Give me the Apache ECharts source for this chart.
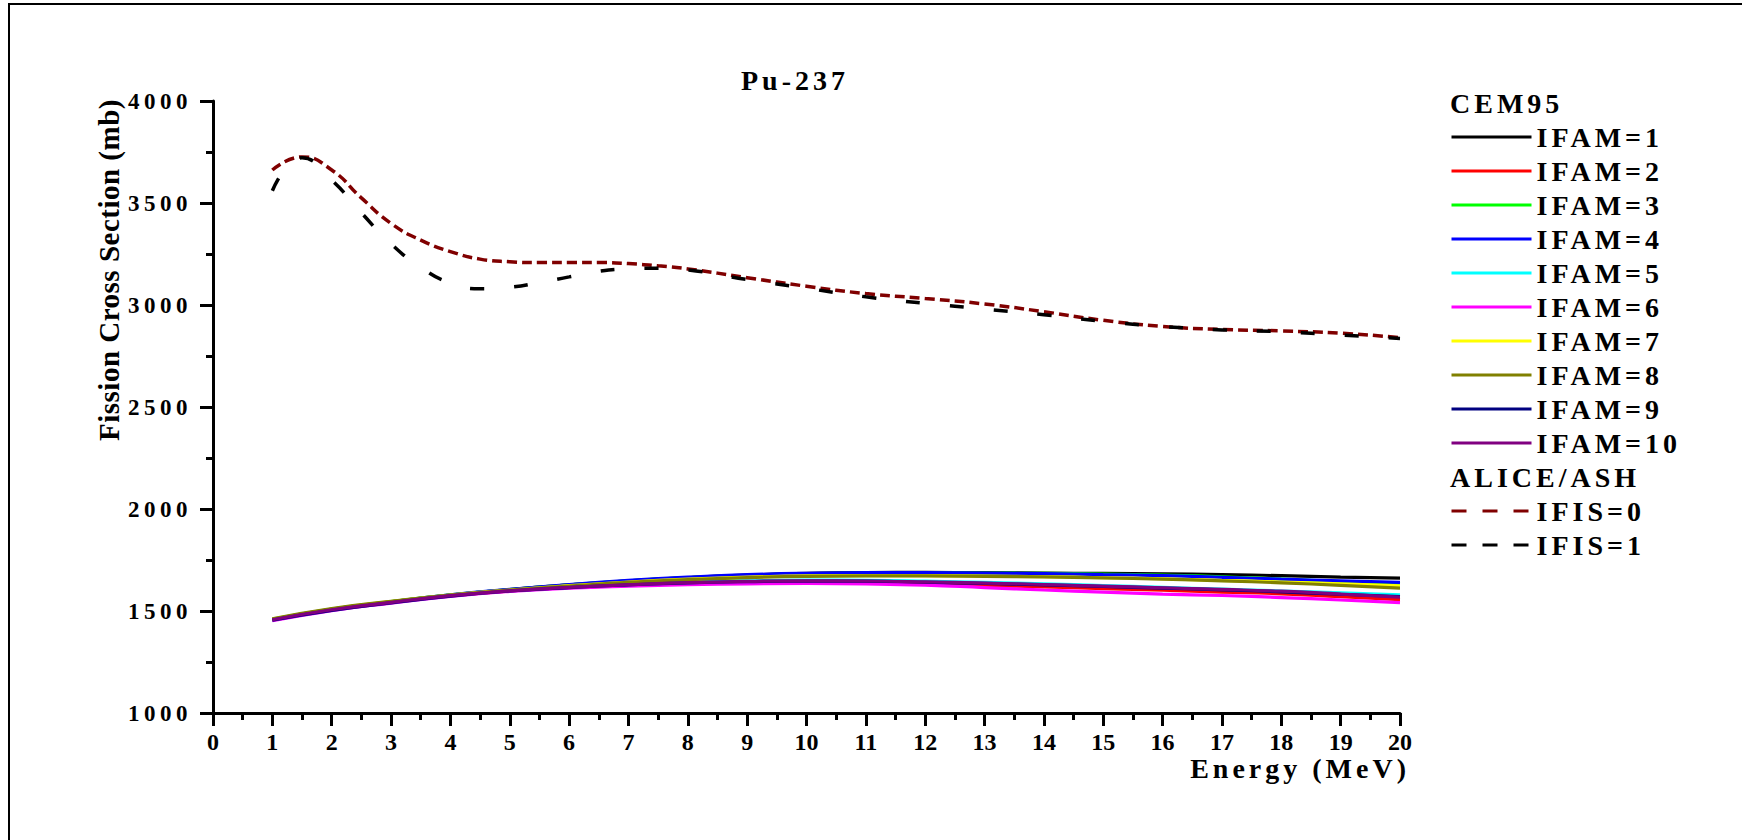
<!DOCTYPE html>
<html>
<head>
<meta charset="utf-8">
<script src="https://cdn.jsdelivr.net/npm/echarts@6/dist/echarts.min.js"></script>
<style>
html, body { margin: 0; padding: 0; background: #fff; }
#chart { width: 1742px; height: 840px; }
#chart text { letter-spacing: 0; }
#chart text[style*="28px"] { letter-spacing: 4px; }
#chart text[style*="23px"] { letter-spacing: 4.5px; }
#chart text[style*="29px"] { letter-spacing: 0.5px; }
</style>
</head>
<body>
<div id="chart"></div>
<script>
// ---- data ----
const chartTitle = 'Pu-237';
const xAxisTitle = 'Energy (MeV)';
const yAxisTitle = 'Fission Cross Section (mb)';
const groupCEM = 'CEM95';
const groupALICE = 'ALICE/ASH';

const energy = [1,2,3,4,5,6,7,8,9,10,11,12,13,14,15,16,17,18,19,20];
const ifamNames = ['IFAM=1','IFAM=2','IFAM=3','IFAM=4','IFAM=5','IFAM=6','IFAM=7','IFAM=8','IFAM=9','IFAM=10'];
const ifamColors = ['#000000','#ff0000','#00ff00','#0000ff','#00ffff','#ff00ff','#ffff00','#808000','#000080','#800080'];

const ifam1  = [1458,1508,1545,1578,1605,1628,1648,1664,1676,1684,1688,1689,1688,1686,1684,1682,1679,1673,1666,1661];
const ifam2  = [1456,1505,1541,1574,1598,1614,1626,1635,1640,1642,1640,1634,1626,1618,1610,1602,1593,1584,1570,1556];
const ifam3  = [1459,1509,1546,1579,1605,1628,1648,1663,1675,1682,1686,1687,1686,1684,1681,1676,1668,1656,1644,1633];
const ifam4  = [1458,1508,1545,1579,1606,1630,1650,1666,1678,1685,1688,1688,1686,1683,1678,1673,1665,1656,1648,1640];
const ifam5  = [1457,1507,1543,1576,1600,1618,1632,1642,1648,1651,1650,1646,1640,1633,1625,1616,1607,1598,1589,1579];
const ifam6  = [1452,1502,1539,1572,1596,1612,1622,1629,1633,1635,1633,1627,1615,1603,1593,1583,1576,1566,1554,1541];
const ifam7  = [1460,1510,1546,1578,1603,1624,1642,1656,1666,1672,1674,1673,1671,1668,1663,1658,1650,1642,1633,1623];
const ifam8  = [1462,1512,1547,1578,1602,1622,1640,1654,1664,1670,1672,1672,1670,1667,1662,1656,1648,1638,1626,1612];
const ifam9  = [1455,1503,1540,1573,1598,1615,1628,1638,1644,1647,1646,1641,1635,1628,1620,1612,1604,1594,1582,1571];
const ifam10 = [1457,1506,1542,1575,1599,1616,1629,1639,1645,1648,1647,1643,1637,1630,1622,1614,1606,1597,1583,1568];
const ifamValues = [ifam1, ifam2, ifam3, ifam4, ifam5, ifam6, ifam7, ifam8, ifam9, ifam10];

const ifisEnergy = [1,1.5,2,2.5,3,3.5,4,4.5,5,5.5,6,6.5,7,7.5,8,9,10,11,12,13,14,15,16,17,18,19,20];
const ifis0 = [3662,3726,3662,3525,3400,3318,3262,3225,3212,3208,3208,3208,3203,3192,3177,3134,3092,3056,3032,3005,2967,2925,2895,2880,2873,2862,2840];
const ifis1 = [3560,3722,3612,3452,3300,3185,3108,3080,3087,3110,3138,3165,3177,3180,3172,3125,3082,3040,3008,2980,2952,2920,2895,2878,2869,2853,2836];
const ifisNames = ['IFIS=0','IFIS=1'];
const ifisColors = ['#800000','#000000'];

// ---- chart ----
const FONT = 'Liberation Serif';
const pair = (xs, ys) => xs.map((x, i) => [x, ys[i]]);

const series = [];
ifamNames.forEach((name, i) => {
  series.push({
    name: name, type: 'line', smooth: true, symbol: 'none', showSymbol: false,
    data: pair(energy, ifamValues[i]),
    lineStyle: { color: ifamColors[i], width: 3.2 },
    itemStyle: { color: ifamColors[i] },
    z: 2 + i
  });
});
series.push({
  name: ifisNames[0], type: 'line', smooth: true, symbol: 'none', showSymbol: false,
  data: pair(ifisEnergy, ifis0),
  lineStyle: { color: ifisColors[0], width: 3.5, type: [10, 5] },
  itemStyle: { color: ifisColors[0] }, z: 20
});
series.push({
  name: ifisNames[1], type: 'line', smooth: true, symbol: 'none', showSymbol: false,
  data: pair(ifisEnergy, ifis1),
  lineStyle: { color: ifisColors[1], width: 3.5, type: [14, 30] },
  itemStyle: { color: ifisColors[1] }, z: 21
});

const axisCommon = {
  axisLine: { show: true, onZero: false, lineStyle: { color: '#000', width: 3 } },
  axisTick: { show: true, inside: false, length: 13, lineStyle: { color: '#000', width: 3 } },
  minorTick: { show: true, splitNumber: 2, length: 7, lineStyle: { color: '#000', width: 3 } },
  splitLine: { show: false },
  minorSplitLine: { show: false }
};

const legendText = { fontFamily: FONT, fontWeight: 'bold', fontSize: 28, lineHeight: 28, color: '#000' };
const hiddenSymbol = { color: 'rgba(0,0,0,0)', borderWidth: 0, opacity: 0 };

const option = {
  animation: false,
  backgroundColor: '#fff',
  grid: { left: 213, right: 342, top: 101, bottom: 127, containLabel: false, outerBoundsMode: 'none' },
  xAxis: Object.assign({
    type: 'value', min: 0, max: 20, interval: 1,
    axisLabel: { margin: 17, fontFamily: FONT, fontWeight: 'bold', fontSize: 24, color: '#000', hideOverlap: false, showMinLabel: true, showMaxLabel: true, formatter: v => String(v) }
  }, axisCommon),
  yAxis: Object.assign({
    type: 'value', min: 1000, max: 4000, interval: 500,
    axisLabel: { margin: 21, fontFamily: FONT, fontWeight: 'bold', fontSize: 23, color: '#000', hideOverlap: false, showMinLabel: true, showMaxLabel: true, formatter: v => String(v) }
  }, axisCommon),
  legend: [
    {
      orient: 'vertical', left: 1450, top: 123, padding: 0,
      itemWidth: 80, itemHeight: 14, itemGap: 6, selectedMode: false,
      itemStyle: hiddenSymbol, lineStyle: { width: 3 },
      data: ifamNames, textStyle: legendText
    },
    {
      orient: 'vertical', left: 1450, top: 497, padding: 0,
      itemWidth: 80, itemHeight: 14, itemGap: 6, selectedMode: false,
      itemStyle: hiddenSymbol, lineStyle: { width: 3 },
      data: ifisNames.map((n, i) => ({ name: n, itemStyle: hiddenSymbol, lineStyle: { type: [15, 16], width: 3, color: ifisColors[i] } })),
      textStyle: legendText
    }
  ],
  graphic: { elements: [
    { type: 'rect', silent: true, z: -10,
      shape: { x: 9, y: 4, width: 1745, height: 845 },
      style: { fill: 'none', stroke: '#000', lineWidth: 2 } },
    { type: 'text', x: 795, y: 80, silent: true,
      style: { text: chartTitle, fontFamily: FONT, fontWeight: 'bold', fontSize: 28, fill: '#000', align: 'center', verticalAlign: 'middle' } },
    { type: 'text', x: 109, y: 270, rotation: Math.PI / 2, silent: true,
      style: { text: yAxisTitle, fontFamily: FONT, fontWeight: 'bold', fontSize: 29, fill: '#000', align: 'center', verticalAlign: 'middle' } },
    { type: 'text', x: 1410, y: 768, silent: true,
      style: { text: xAxisTitle, fontFamily: FONT, fontWeight: 'bold', fontSize: 28, fill: '#000', align: 'right', verticalAlign: 'middle' } },
    { type: 'text', x: 1450, y: 103, silent: true,
      style: { text: groupCEM, fontFamily: FONT, fontWeight: 'bold', fontSize: 28, fill: '#000', align: 'left', verticalAlign: 'middle' } },
    { type: 'text', x: 1450, y: 477, silent: true,
      style: { text: groupALICE, fontFamily: FONT, fontWeight: 'bold', fontSize: 28, fill: '#000', align: 'left', verticalAlign: 'middle' } }
  ] },
  series: series
};

const chart = echarts.init(document.getElementById('chart'), null, { renderer: 'svg', width: 1742, height: 840 });
chart.setOption(option);
</script>
</body>
</html>
